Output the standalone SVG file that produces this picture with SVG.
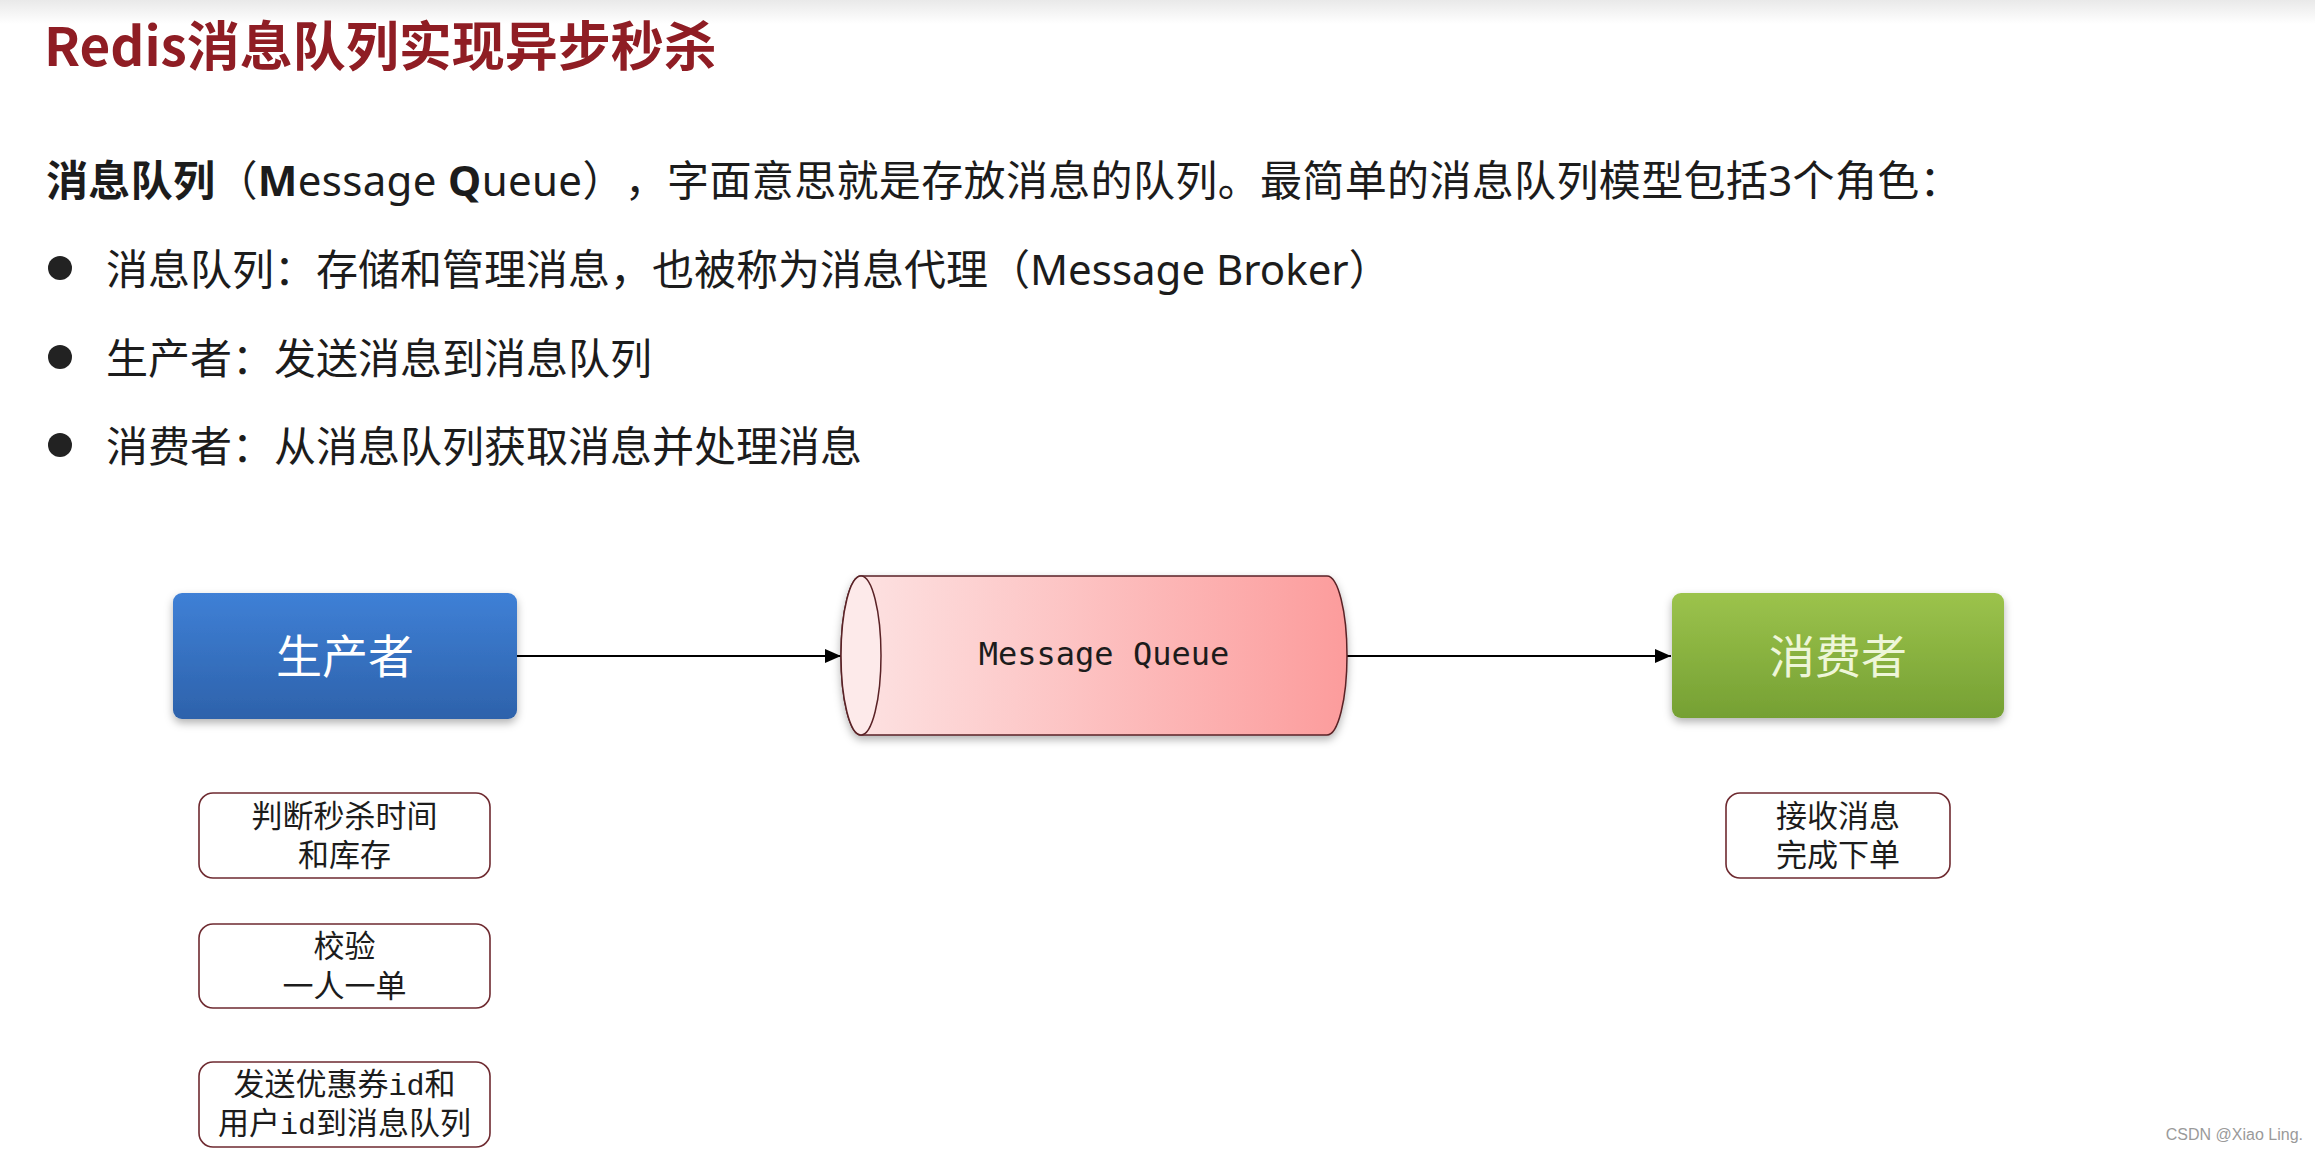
<svg xmlns="http://www.w3.org/2000/svg" width="2315" height="1151" viewBox="0 0 2315 1151">
<style>
.t{font-family:"Noto Sans","Noto Sans CJK SC",sans-serif;fill:#1c1c1c;text-spacing-trim:space-all}
.cjk{font-family:"Noto Sans CJK SC",sans-serif}
.b{font-weight:bold}
.small{font-family:"Noto Sans CJK SC",sans-serif;font-size:31px;fill:#1c1c1c;text-anchor:middle}
.mono{font-family:"Liberation Mono","DejaVu Sans Mono",monospace;font-size:30px}
.sbox{fill:#ffffff;stroke:#6e2a30;stroke-width:1.6}
.conn{stroke:#000;stroke-width:1.8;fill:none}
.big{font-family:"Noto Sans CJK SC",sans-serif;font-size:46px;text-anchor:middle}
</style>
<defs>
<linearGradient id="bg" x1="0" y1="0" x2="0" y2="1"><stop offset="0" stop-color="#e9e9e9"/><stop offset="1" stop-color="#ffffff"/></linearGradient>
<linearGradient id="blue" x1="0" y1="0" x2="0" y2="1"><stop offset="0" stop-color="#3f80d6"/><stop offset="1" stop-color="#2d62ab"/></linearGradient>
<linearGradient id="green" x1="0" y1="0" x2="0" y2="1"><stop offset="0" stop-color="#9cc34c"/><stop offset="1" stop-color="#75a033"/></linearGradient>
<linearGradient id="pink" x1="0" y1="0" x2="1" y2="0"><stop offset="0" stop-color="#fde4e4"/><stop offset="1" stop-color="#fc9c9c"/></linearGradient>
<filter id="sh" x="-10%" y="-10%" width="120%" height="130%"><feDropShadow dx="0" dy="4" stdDeviation="4" flood-color="#000" flood-opacity="0.3"/></filter>
<marker id="arr" viewBox="0 0 16 14" refX="16" refY="7" markerWidth="16" markerHeight="14" markerUnits="userSpaceOnUse" orient="auto"><path d="M0,0 L16,7 L0,14 Z" fill="#000"/></marker>
</defs>
<rect x="0" y="0" width="2315" height="1151" fill="#ffffff"/>
<rect x="0" y="0" width="2315" height="24" fill="url(#bg)"/>
<text x="44" y="66" font-family="Noto Sans CJK SC, sans-serif" font-size="53" font-weight="bold" fill="#8f1d24">Redis消息队列实现异步秒杀</text>
<text class="t" x="46" y="196" font-size="42" letter-spacing="0.35"><tspan class="b cjk">消息队列</tspan>（<tspan class="b">M</tspan>essage <tspan class="b">Q</tspan>ueue），字面意思就是存放消息的队列。最简单的消息队列模型包括3个角色：</text>
<circle cx="60" cy="268" r="12" fill="#222"/>
<text class="t" x="106" y="285" font-size="42">消息队列：存储和管理消息，也被称为消息代理（Message Broker）</text>
<circle cx="60" cy="357" r="12" fill="#222"/>
<text class="t" x="106" y="374" font-size="42">生产者：发送消息到消息队列</text>
<circle cx="60" cy="445" r="12" fill="#222"/>
<text class="t" x="106" y="462" font-size="42">消费者：从消息队列获取消息并处理消息</text>
<g id="connectors">
<line class="conn" x1="517" y1="656" x2="841" y2="656" marker-end="url(#arr)"/>
<line class="conn" x1="1347" y1="656" x2="1671" y2="656" marker-end="url(#arr)"/>
</g>
<g id="producer">
<rect x="173" y="593" width="344" height="126" rx="9" fill="url(#blue)" filter="url(#sh)"/>
<text class="big" x="345" y="673" fill="#ffffff">生产者</text>
</g>
<g id="queue">
<path d="M861,576 H1327 A20,79.5 0 0 1 1327,735 H861 A20,79.5 0 0 1 861,576 Z" fill="url(#pink)" stroke="#5a2226" stroke-width="1.5" filter="url(#sh)"/>
<ellipse cx="861" cy="655.5" rx="20" ry="79.5" fill="#fdeaea" stroke="#5a2226" stroke-width="1.5"/>
<text x="1104" y="665" font-family="DejaVu Sans Mono, monospace" font-size="32" text-anchor="middle" fill="#1c1c1c">Message Queue</text>
</g>
<g id="consumer">
<rect x="1672" y="593" width="332" height="125" rx="9" fill="url(#green)" filter="url(#sh)"/>
<text class="big" x="1838" y="673" fill="#eef6d8">消费者</text>
</g>
<g id="step1">
<rect class="sbox" x="199" y="793" width="291" height="85" rx="14"/>
<text class="small" x="344.5" y="827">判断秒杀时间<tspan x="344.5" y="866">和库存</tspan></text>
</g>
<g id="step2">
<rect class="sbox" x="199" y="924" width="291" height="84" rx="14"/>
<text class="small" x="344.5" y="957">校验<tspan x="344.5" y="997">一人一单</tspan></text>
</g>
<g id="step3">
<rect class="sbox" x="199" y="1062" width="291" height="85" rx="14"/>
<text class="small" x="344.5" y="1095">发送优惠券<tspan class="mono">id</tspan>和<tspan x="344.5" y="1134">用户</tspan><tspan class="mono">id</tspan>到消息队列</text>
</g>
<g id="step4">
<rect class="sbox" x="1726" y="793" width="224" height="85" rx="14"/>
<text class="small" x="1838" y="827">接收消息<tspan x="1838" y="866">完成下单</tspan></text>
</g>
<text x="2303" y="1140" font-family="Liberation Sans, sans-serif" font-size="16" fill="#9a9a9a" text-anchor="end">CSDN @Xiao Ling.</text>
</svg>
